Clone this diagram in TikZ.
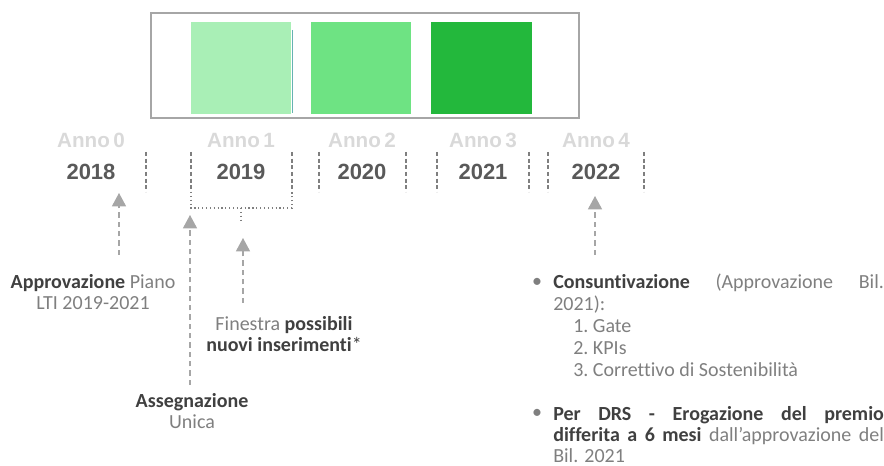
\documentclass[tikz,border=0pt]{standalone}
\usepackage{fontspec}
\setmainfont[Ligatures=NoCommon]{Carlito}
\newfontfamily\yearfont{Liberation Sans}
\usetikzlibrary{arrows.meta,calc,positioning}
\definecolor{frame}{HTML}{A6A6A6}
\definecolor{greenA}{HTML}{A9EFB6}
\definecolor{greenB}{HTML}{6EE383}
\definecolor{greenC}{HTML}{23B83C}
\definecolor{darktxt}{HTML}{404040}
\definecolor{lighttxt}{HTML}{7F7F7F}
\definecolor{yeartxt}{HTML}{595959}
\definecolor{annotxt}{HTML}{D9D9D9}
\tikzset{
  anno/.style={font=\yearfont\bfseries\fontsize{15.5}{18}\selectfont,text=annotxt,inner sep=0pt},
  year/.style={font=\yearfont\bfseries\fontsize{16.5}{19}\selectfont,text=yeartxt,inner sep=0pt},
  sep/.style={draw=lighttxt,dashed,line width=0.9pt,dash pattern=on 3pt off 2pt},
  ptr/.style={draw=frame,line width=1pt,dash pattern=on 4pt off 3pt,-{Triangle[width=10.5pt,length=10pt]}},
  note/.style={font=\fontsize{15}{15.8}\selectfont,text=lighttxt,inner sep=0pt},
}
\newcommand{\hl}[1]{\textbf{\color{darktxt}#1}}
\begin{document}
\begin{tikzpicture}[x=0.75pt,y=-0.75pt]
\useasboundingbox (0,0) rectangle (884,466);

% Blocchi
\draw[frame,line width=1.6pt] (151,13) rectangle (579,118);
\fill[greenA] (191,22) rectangle (291,114);
\draw[teal!60,line width=0.6pt] (292,30) -- (292,113);
\fill[greenB] (311,22) rectangle (411,114);
\fill[greenC] (431,22) rectangle (532,114);

% Anni
\foreach \x/\n/\y in {91/0/2018,241/1/2019,362/2/2020,483/3/2021,596/4/2022}{
  \node[anno] (anno\n) at (\x,140) {Anno\,\n};
  \node[year] (y\y) at (\x,172) {\y};
}
\foreach \x in {146,191,292,319,406,437,529,548,644}
  \draw[sep] (\x,152) -- (\x,192);

% finestra 2019
\draw[lighttxt,line width=0.9pt,dotted] (191,192) -- (191,208) -- (292,208) -- (292,192);
\draw[lighttxt,line width=0.9pt,dotted] (241,208) -- (241,220);

% Note
\node[note,align=center] (appr) at (93,292) {\hl{Approvazione} Piano\\LTI 2019-2021};
\node[note,align=center] (asse) at (192,411) {\hl{Assegnazione}\\Unica};
\node[note,align=center] (fine) at (284,334) {Finestra \hl{possibili}\\\hl{nuovi inserimenti}{\color{darktxt}*}};

\coordinate (t0) at (119,193);
\coordinate (t1) at (190,215);
\coordinate (t2) at (243,238);
\coordinate (t4) at (595,196);
\coordinate (b0) at (119,255);
\coordinate (b1) at (190,385);
\coordinate (b2) at (243,303);
\coordinate (b4) at (595,255);
\foreach \i in {0,1,2,4}
  \draw[ptr] (b\i) -- (t\i);

% Consuntivazione
\node[note,anchor=base west,text width=248pt,align=justify] (cons) at (553,289)
  {\hl{Consuntivazione} (Approvazione Bil.\linebreak 2021):};
\foreach \t [count=\k] in {Gate,KPIs,Correttivo di Sostenibilità}
  \node[note,anchor=base west] (item\k) at (573,310+22*\k) {\k.~\t};
\node[note,anchor=base west,text width=248pt,align=justify] (drs) at (553,420)
  {\hl{Per DRS - Erogazione del premio}\linebreak \hl{differita a 6 mesi} dall’approvazione del\linebreak Bil. 2021};
\node[note] (bul1) at (537,283) {•};
\node[note] (bul2) at (537,414) {•};
\end{tikzpicture}
\end{document}
